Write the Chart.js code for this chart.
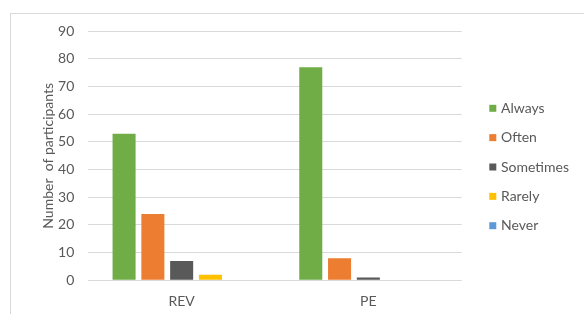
<!DOCTYPE html>
<html>
<head>
<meta charset="utf-8">
<script src="https://cdn.jsdelivr.net/npm/chart.js@4"></script>
<style>
    html, body { margin: 0; padding: 0; background: #fff; overflow: hidden; }
    #wrap { position: relative; width: 584px; height: 314px; }
    #frame {
        position: absolute; left: 10px; top: 13px; width: 640px; height: 360px;
        border-left: 1px solid #d9d9d9; border-top: 1px solid #d9d9d9;
    }
    #chart { position: absolute; left: 0; top: 0; }
</style>
</head>
<body>
<div id="wrap">
    <div id="frame"></div>
    <canvas id="chart" width="584" height="314"></canvas>
</div>
<script>
// Data
const categories = ['REV', 'PE'];
const seriesNames = ['Always', 'Often', 'Sometimes', 'Rarely', 'Never'];
const alwaysValues = [53, 77];
const oftenValues = [24, 8];
const sometimesValues = [7, 1];
const rarelyValues = [2, 0];
const neverValues = [0, 0];
const yTicks = [0, 10, 20, 30, 40, 50, 60, 70, 80, 90];

const seriesValues = [alwaysValues, oftenValues, sometimesValues, rarelyValues, neverValues];
const colors = [
    '#70AD47',  // green
    '#ED7D31',  // orange
    '#595959',  // dark gray
    '#FFC000',  // yellow
    '#5B9BD5'   // blue
];

const textColor = '#595959';
const font = { family: 'Lato', size: 14 };

// Excel-style legend on the right: small square + label, one per dataset
const sideLegend = {
    id: 'sideLegend',
    afterDraw(chart) {
        const c = chart.ctx;
        c.save();
        c.font = font.size + 'px ' + font.family;
        c.textBaseline = 'middle';
        c.textAlign = 'left';
        chart.data.datasets.forEach((ds, i) => {
            const y = 108.3 + i * 29.35;
            c.fillStyle = ds.backgroundColor;
            c.fillRect(489.3, y - 3.5, 7, 7);
            c.fillStyle = textColor;
            c.fillText(ds.label, 501, y);
        });
        c.restore();
    }
};

const ctx = document.getElementById('chart').getContext('2d');

const chart = new Chart(ctx, {
    type: 'bar',
    data: {
        labels: categories,
        datasets: seriesNames.map((name, i) => ({
            label: name,
            data: seriesValues[i],
            backgroundColor: colors[i],
            borderWidth: 0,
            categoryPercentage: 0.771,
            barPercentage: 0.8
        }))
    },
    options: {
        responsive: false,
        animation: false,
        layout: {
            padding: { left: 0, top: 31.3, right: 122.3, bottom: 0 }
        },
        plugins: {
            legend: { display: false },
            tooltip: { enabled: false }
        },
        scales: {
            x: {
                grid: { display: false, drawTicks: false },
                border: { display: false },
                ticks: {
                    color: textColor,
                    font: font,
                    padding: 13.2
                },
                afterFit: function(scale) {
                    scale.height = 33.7;
                }
            },
            y: {
                min: 0,
                max: 90,
                afterBuildTicks: function(scale) {
                    scale.ticks = yTicks.map(v => ({ value: v }));
                },
                grid: {
                    color: '#d9d9d9',
                    drawTicks: false
                },
                border: { display: false },
                ticks: {
                    color: textColor,
                    font: font,
                    padding: 14
                },
                title: {
                    display: true,
                    text: 'Number  of participants',
                    color: textColor,
                    font: font,
                    padding: { top: 40, bottom: 0 }
                },
                afterFit: function(scale) {
                    scale.width = 88.3;
                }
            }
        }
    },
    plugins: [sideLegend]
});
</script>
</body>
</html>
